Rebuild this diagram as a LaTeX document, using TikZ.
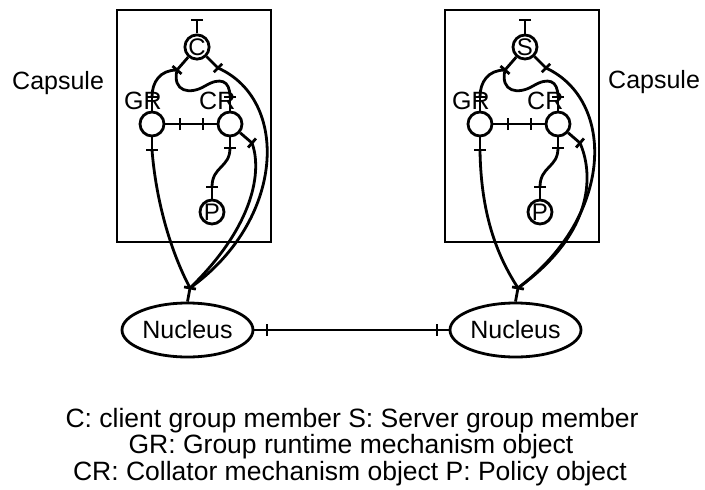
\documentclass[tikz,border=0pt]{standalone}
\usepackage{fontspec}
\setmainfont{Liberation Sans}
\usetikzlibrary{shapes.geometric,calc}
\tikzset{
  lw/.style={line width=2.8pt},
  box/.style={lw},
  obj/.style={circle,draw,lw,minimum size=24pt,inner sep=0pt,font=\fontsize{24}{24}\selectfont},
  lbl/.style={inner sep=0pt,font=\fontsize{25}{25}\selectfont},
  nuc/.style={ellipse,draw,lw,minimum width=131pt,minimum height=54pt,inner sep=0pt,font=\fontsize{25}{25}\selectfont},
  legend/.style={inner sep=0pt,font=\fontsize{26.5}{26.5}\selectfont,anchor=base},
  conn/.style={lw},
}
\newcommand\tickat[2]{\draw[lw] ($(#2)!6pt!90:(#1)$) -- ($(#2)!6pt!-90:(#1)$);}
\newcommand\capsulepart[3]{%
  \begin{scope}[xshift=#2pt]
    \draw[box] (117,10) rectangle (271,242);
    \node[obj] (#1C) at (197,47) {#3};
    \node[obj] (#1G) at (152,124) {};
    \node[obj] (#1K) at (230,124) {};
    \node[obj] (#1P) at (212,212) {P};
    \node[lbl,anchor=base west] (#1gl) at (124,109) {GR};
    \node[lbl,anchor=base west] (#1kl) at (199,109) {CR};
    \node[nuc] (#1N) at (187.5,330) {Nucleus};
    \coordinate (#1ct) at (197,20);
    \coordinate (#1cl) at (177,70);
    \coordinate (#1cr) at (218,68);
    \coordinate (#1gt) at (152,97);
    \coordinate (#1kt) at (230,97);
    \coordinate (#1gr) at (180,124);
    \coordinate (#1kw) at (203,124);
    \coordinate (#1gb) at (152,150);
    \coordinate (#1kb) at (230,148);
    \coordinate (#1kr) at (252,143);
    \coordinate (#1pt) at (212,187);
    \coordinate (#1nt) at (190,288);
    \draw[conn] (#1cl) .. controls (172,92) and (190,95) .. (205,86)
                       .. controls (220,77) and (230,80) .. (#1kt);
    \draw[conn] (#1cl) .. controls (160,70) and (152,82) .. (#1gt);
    \draw[conn] (#1kb) .. controls (230,168) and (212,166) .. (#1pt);
  \end{scope}
  \draw[conn] (#1C.north) -- (#1ct);
  \draw[conn] (#1C) -- (#1cl);
  \draw[conn] (#1C) -- (#1cr);
  \draw[conn] (#1G) -- (#1gt);
  \draw[conn] (#1K) -- (#1kt);
  \draw[conn] (#1G) -- (#1K);
  \draw[conn] (#1G) -- (#1gb);
  \draw[conn] (#1K) -- (#1kb);
  \draw[conn] (#1K) -- (#1kr);
  \draw[conn] (#1P) -- (#1pt);
  \draw[conn] (#1N.north) -- (#1nt);
  \tickat{#1C}{#1ct}\tickat{#1C}{#1cl}\tickat{#1C}{#1cr}
  \tickat{#1G}{#1gt}\tickat{#1K}{#1kt}\tickat{#1G}{#1gr}\tickat{#1K}{#1kw}
  \tickat{#1G}{#1gb}\tickat{#1K}{#1kb}\tickat{#1K}{#1kr}\tickat{#1P}{#1pt}
  \tickat{#1N.north}{#1nt}
}
\begin{document}
\begin{tikzpicture}[x=1pt,y=-1pt]
\useasboundingbox (0,0) rectangle (705,490);
\capsulepart{l}{0}{C}
\capsulepart{r}{328}{S}
% left capsule long connectors
\draw[conn] (lcr) .. controls (290,100) and (285,220) .. (lnt);
\draw[conn] (lkr) .. controls (262,170) and (255,225) .. (lnt);
\draw[conn] (lgb) .. controls (156,200) and (170,250) .. (lnt);
% right capsule long connectors
\draw[conn] (rcr) .. controls (615,100) and (615,215) .. (rnt);
\draw[conn] (rkr) .. controls (592,170) and (598,230) .. (rnt);
\draw[conn] (rgb) .. controls (481,220) and (500,260) .. (rnt);
% nucleus link
\coordinate (na) at (267,330);
\coordinate (nb) at (437,330);
\draw[conn] (lN.east) -- (rN.west);
\tickat{lN.east}{na}\tickat{rN.west}{nb}
% capsule labels
\node[lbl,anchor=base west] (cap1) at (12,89) {Capsule};
\node[lbl,anchor=base west] (cap2) at (608,88) {Capsule};
% legend
\node[legend] (leg1) at (352,427) {C: client group member S: Server group member};
\node[legend] (leg2) at (351,453) {GR: Group runtime mechanism object};
\node[legend] (leg3) at (350,480) {CR: Collator mechanism object P: Policy object};
\end{tikzpicture}
\end{document}
